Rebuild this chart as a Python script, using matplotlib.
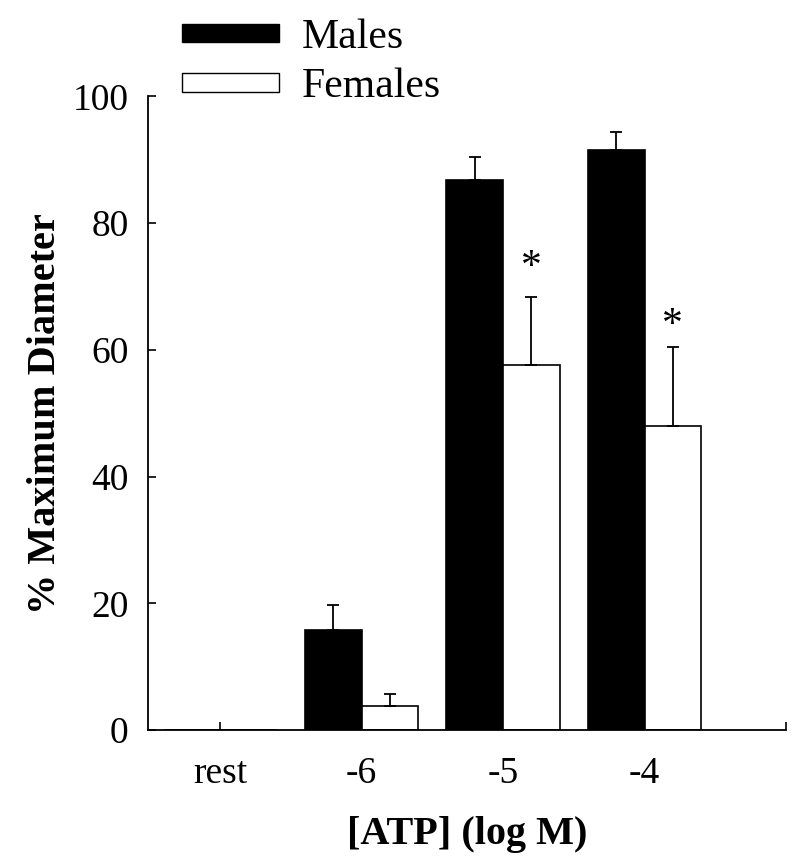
import matplotlib
matplotlib.use("Agg")
import matplotlib.pyplot as plt
from matplotlib.patches import Patch
import numpy as np

categories = ["rest", "-6", "-5", "-4"]
males = [0, 15.8, 86.8, 91.6]
males_err = [0, 3.9, 3.6, 2.7]
females = [0, 3.8, 57.6, 48.0]
females_err = [0, 1.9, 10.7, 12.4]
star_y = [None, None, 73.0, 63.8]

plt.rcParams['font.family'] = ['Liberation Serif', 'DejaVu Serif']

fig = plt.figure(figsize=(8, 8.68), dpi=100)
ax = fig.add_axes([0.185, 0.159, 0.7975, 0.73])

x = np.arange(len(categories))
w = 0.40
ax.bar(x - w/2, males, w, color='black', edgecolor='black', linewidth=1.2, zorder=2)
ax.bar(x + w/2, females, w, color='white', edgecolor='black', linewidth=1.2, zorder=2)
for i in range(len(categories)):
    if males[i] > 0:
        ax.errorbar(x[i] - w/2, males[i], yerr=[[0], [males_err[i]]], fmt='none',
                    ecolor='black', elinewidth=1.3, capsize=4, capthick=1.3, zorder=1)
    if females[i] > 0:
        ax.errorbar(x[i] + w/2, females[i], yerr=[[0], [females_err[i]]], fmt='none',
                    ecolor='black', elinewidth=1.3, capsize=4, capthick=1.3, zorder=3)
    if star_y[i] is not None:
        ax.text(x[i] + w/2, star_y[i], '*', ha='center', va='center', fontsize=30)

ax.set_xlim(-0.51, 4.0)
ax.set_ylim(0, 100)
ax.set_xticks(list(x) + [4])
ax.set_xticklabels(categories + [""])
ax.set_yticks([0, 20, 40, 60, 80, 100])
ax.tick_params(axis='both', direction='in', length=6, width=1.2, labelsize=27)
ax.tick_params(axis='x', pad=19)
ax.tick_params(axis='y', pad=14)
for s in ['top', 'right']:
    ax.spines[s].set_visible(False)
for s in ['left', 'bottom']:
    ax.spines[s].set_linewidth(1.3)

ax.set_ylabel('% Maximum Diameter', fontsize=29, fontweight='bold', labelpad=6)
ax.set_xlabel('[ATP] (log M)', fontsize=29, fontweight='bold', labelpad=18)

handles = [Patch(facecolor='black', edgecolor='black', label='Males'),
           Patch(facecolor='white', edgecolor='black', label='Females')]
fig.legend(handles=handles, loc='upper left', bbox_to_anchor=(0.2015, 1.003), frameon=False,
           fontsize=30, handlelength=2.33, handleheight=0.3, handletextpad=0.55,
           labelspacing=0.27, borderaxespad=0.1)

fig.savefig('out.png', dpi=100)
